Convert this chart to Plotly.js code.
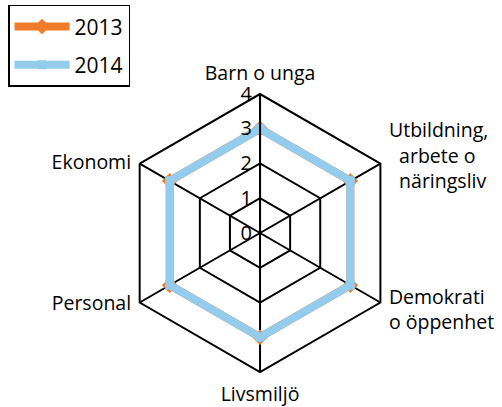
<!DOCTYPE html>
<html><head><meta charset="utf-8">
<script src="https://cdn.plot.ly/plotly-3.0.1.min.js"></script>
<style>html,body{margin:0;padding:0;background:#fff}#chart{width:502px;height:407px}</style>
</head><body><div id="chart"></div>
<script>
var categories = ["Barn o unga", "Utbildning, arbete o näringsliv", "Demokrati o öppenhet", "Livsmiljö", "Personal", "Ekonomi"];
var categoryLabels = ["Barn o unga",
  "&nbsp;<br>&nbsp;<br>Utbildning,<br>&nbsp;&nbsp;arbete o<br>&nbsp;&nbsp;näringsliv",
  "Demokrati<br>o öppenhet<br>&nbsp;<br>&nbsp;",
  "Livsmiljö",
  "Personal<br>&nbsp;<br>&nbsp;",
  "&nbsp;<br>Ekonomi"];
var values2013 = [3, 3, 3, 3, 3, 3];
var values2014 = [3, 3, 3, 3, 3, 3];
var seriesNames = ["2013", "2014"];
var radialTicks = [0, 1, 2, 3, 4];

function closed(a){ return a.concat([a[0]]); }

var traces = [
  {type:'scatterpolar', name:seriesNames[0], legendgroup:'g1', r:closed(values2013), theta:closed(categories),
   mode:'lines+markers', line:{color:'#F07B2B', width:8}, marker:{symbol:'diamond', size:12, color:'#F07B2B'}},
  {type:'scatterpolar', name:seriesNames[1], legendgroup:'g2', r:closed(values2014), theta:closed(categories),
   mode:'lines+markers', line:{color:'#94CCEE', width:8}, marker:{symbol:'square', size:9, color:'#94CCEE'}}
];

var layout = {
  width:502, height:407,
  margin:{l:0, r:0, t:0, b:0},
  paper_bgcolor:'#fff',
  font:{family:'"Open Sans", sans-serif', size:18, color:'#000'},
  showlegend:true,
  legend:{x:0.016, y:0.988, xanchor:'left', yanchor:'top',
          bordercolor:'#000', borderwidth:1.5, font:{size:21}, bgcolor:'#fff',
          tracegroupgap:8, itemwidth:55},
  polar:{
    domain:{x:[0.241,0.795], y:[0.086,0.769]},
    gridshape:'linear',
    bgcolor:'rgba(0,0,0,0)',
    radialaxis:{range:[0,4], tickvals:radialTicks, angle:90, side:'counterclockwise',
      showline:true, linecolor:'#000', linewidth:2, gridcolor:'#000', gridwidth:2,
      ticks:'', tickfont:{size:20}, tickangle:90},
    angularaxis:{direction:'clockwise', rotation:90, showline:true, linecolor:'#000', linewidth:2,
      gridcolor:'#000', gridwidth:2, ticks:'outside', ticklen:5, tickcolor:'rgba(0,0,0,0)',
      tickfont:{size:19.5}, tickvals:categories, ticktext:categoryLabels}
  }
};
Plotly.newPlot('chart', traces, layout, {displayModeBar:false, staticPlot:true});
</script></body></html>
